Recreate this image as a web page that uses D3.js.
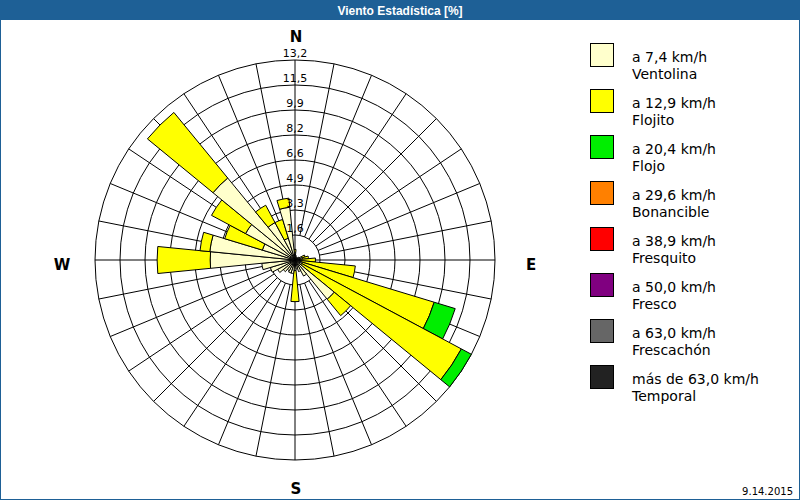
<!DOCTYPE html>
<html>
<head>
<meta charset="utf-8">
<script src="https://cdn.jsdelivr.net/npm/d3@7"></script>
<style>
  body { margin: 0; background: #fff; }
  svg { display: block; }
</style>
</head>
<body>
<div id="chart"></div>
<script>
// Direction of each sector (degrees, clockwise from N) - 32 sectors
const directions = [0, 11.25, 22.5, 33.75, 45, 56.25, 67.5, 78.75,
  90, 101.25, 112.5, 123.75, 135, 146.25, 157.5, 168.75,
  180, 191.25, 202.5, 213.75, 225, 236.25, 247.5, 258.75,
  270, 281.25, 292.5, 303.75, 315, 326.25, 337.5, 348.75];

// Frequency [%] per speed class, per direction
const ventolina = [0.5, 0.3, 0.2, 0.2, 0.2, 0.3, 0.5, 0.5,
  0.35, 0.4, 0.5, 0.5, 3.35, 1.2, 0.8, 0.6,
  0.7, 0.9, 0.9, 0.8, 1.0, 1.3, 1.7, 2.2,
  5.6, 5.65, 2.25, 3.7, 7.0, 2.8, 1.5, 3.5];
const flojito = [0.2, 0, 0, 0, 0, 0, 0.2, 0.4,
  1.0, 3.6, 9.1, 11.95, 1.4, 0, 0, 0,
  2.05, 0, 0, 0, 0, 0, 0, 0,
  3.5, 0.65, 2.6, 2.55, 5.6, 1.3, 1.3, 0.6];
const flojo = [0, 0, 0, 0, 0, 0, 0, 0,
  0, 0, 1.45, 0.75, 0, 0, 0, 0,
  0, 0, 0, 0, 0, 0, 0, 0,
  0, 0, 0, 0, 0, 0, 0, 0];

// Legend classes
const classSpeeds = ["a 7,4 km/h", "a 12,9 km/h", "a 20,4 km/h", "a 29,6 km/h",
  "a 38,9 km/h", "a 50,0 km/h", "a 63,0 km/h", "más de 63,0 km/h"];
const classNames = ["Ventolina", "Flojito", "Flojo", "Bonancible",
  "Fresquito", "Fresco", "Frescachón", "Temporal"];
const classColors = ["#ffffcc", "#ffff00", "#00ee00", "#ff8000",
  "#ff0000", "#800080", "#666666", "#222222"];

// Rings and their labels
const ringValues = [1.65, 3.3, 4.95, 6.6, 8.25, 9.9, 11.55, 13.2];
const ringLabels = ["1,6", "3,3", "4,9", "6,6", "8,2", "9,9", "11,5", "13,2"];

const title = "Viento Estadística [%]";
const dateText = "9.14.2015";

const W = 800, H = 500;
const cx = 295, cy = 260, R = 200;
const font = "DejaVu Sans";

const svg = d3.select("#chart").append("svg")
  .attr("width", W)
  .attr("height", H);

// background + title bar
svg.append("rect").attr("width", W).attr("height", H).attr("fill", "#ffffff");
svg.append("rect").attr("width", W).attr("height", 20).attr("fill", "#1e6096");
svg.append("rect")
  .attr("x", 0.5).attr("y", 0.5).attr("width", W - 1).attr("height", H - 1)
  .attr("fill", "none").attr("stroke", "#1e6096");
svg.append("text")
  .attr("x", W / 2).attr("y", 15)
  .attr("text-anchor", "middle")
  .attr("fill", "#fff")
  .style("font-family", "Liberation Sans")
  .style("font-weight", "bold")
  .style("font-size", "12px")
  .text(title);

const r = d3.scaleLinear().domain([0, 13.2]).range([0, R]);

const g = svg.append("g").attr("transform", `translate(${cx},${cy})`);

// rings
g.selectAll("circle.ring")
  .data(ringValues)
  .enter().append("circle")
  .attr("class", "ring")
  .attr("r", d => r(d))
  .attr("fill", "none")
  .attr("stroke", "#000")
  .attr("stroke-width", 1);

// spokes (main axes from the centre, the rest from the first ring)
const rad = d => (d - 90) * Math.PI / 180;
g.selectAll("line.spoke")
  .data(directions)
  .enter().append("line")
  .attr("class", "spoke")
  .attr("x1", d => (d % 90 === 0 ? 0 : r(ringValues[0])) * Math.cos(rad(d)))
  .attr("y1", d => (d % 90 === 0 ? 0 : r(ringValues[0])) * Math.sin(rad(d)))
  .attr("x2", d => R * Math.cos(rad(d)))
  .attr("y2", d => R * Math.sin(rad(d)))
  .attr("stroke", "#000")
  .attr("stroke-width", 1);

// stacked sectors
const series = [ventolina, flojito, flojo];
const half = 180 / directions.length;
const segs = [];
directions.forEach((dir, i) => {
  let acc = 0;
  series.forEach((s, k) => {
    const v = s[i];
    if (v > 0) {
      segs.push({ dir, from: acc, to: acc + v, color: classColors[k] });
      acc += v;
    }
  });
});

const arc = d3.arc()
  .innerRadius(d => r(d.from))
  .outerRadius(d => r(d.to))
  .startAngle(d => (d.dir - half) * Math.PI / 180)
  .endAngle(d => (d.dir + half) * Math.PI / 180);

g.selectAll("path.seg")
  .data(segs)
  .enter().append("path")
  .attr("class", "seg")
  .attr("d", arc)
  .attr("fill", d => d.color)
  .attr("stroke", "#000")
  .attr("stroke-width", 1);

// ring labels along N axis
g.selectAll("text.ringlab")
  .data(ringValues)
  .enter().append("text")
  .attr("class", "ringlab")
  .attr("x", 0)
  .attr("y", d => -r(d) - 3)
  .attr("text-anchor", "middle")
  .style("font-family", font)
  .style("font-size", "11px")
  .attr("fill", "#000")
  .text((d, i) => ringLabels[i]);

// cardinal letters
const cardinals = [
  { t: "N", x: 1, y: -R - 18 },
  { t: "E", x: R + 36, y: 10 },
  { t: "S", x: 1, y: R + 34 },
  { t: "W", x: -R - 33, y: 10 }
];
g.selectAll("text.card")
  .data(cardinals)
  .enter().append("text")
  .attr("class", "card")
  .attr("x", d => d.x)
  .attr("y", d => d.y)
  .attr("text-anchor", "middle")
  .style("font-family", font)
  .style("font-weight", "bold")
  .style("font-size", "15px")
  .text(d => d.t);

// legend
const legend = svg.append("g").attr("transform", "translate(590,43)");
const items = legend.selectAll("g.item")
  .data(classNames)
  .enter().append("g")
  .attr("class", "item")
  .attr("transform", (d, i) => `translate(0,${i * 46})`);

items.append("rect")
  .attr("x", 0.5).attr("y", 0.5)
  .attr("width", 23).attr("height", 23)
  .attr("fill", (d, i) => classColors[i])
  .attr("stroke", "#000");

items.append("text")
  .attr("x", 42).attr("y", 19)
  .style("font-family", font)
  .style("font-size", "14px")
  .text((d, i) => classSpeeds[i]);

items.append("text")
  .attr("x", 42).attr("y", 36)
  .style("font-family", font)
  .style("font-size", "14px")
  .text(d => d);

// date
svg.append("text")
  .attr("x", 793).attr("y", 495)
  .attr("text-anchor", "end")
  .style("font-family", font)
  .style("font-size", "10px")
  .text(dateText);
</script>
</body>
</html>
